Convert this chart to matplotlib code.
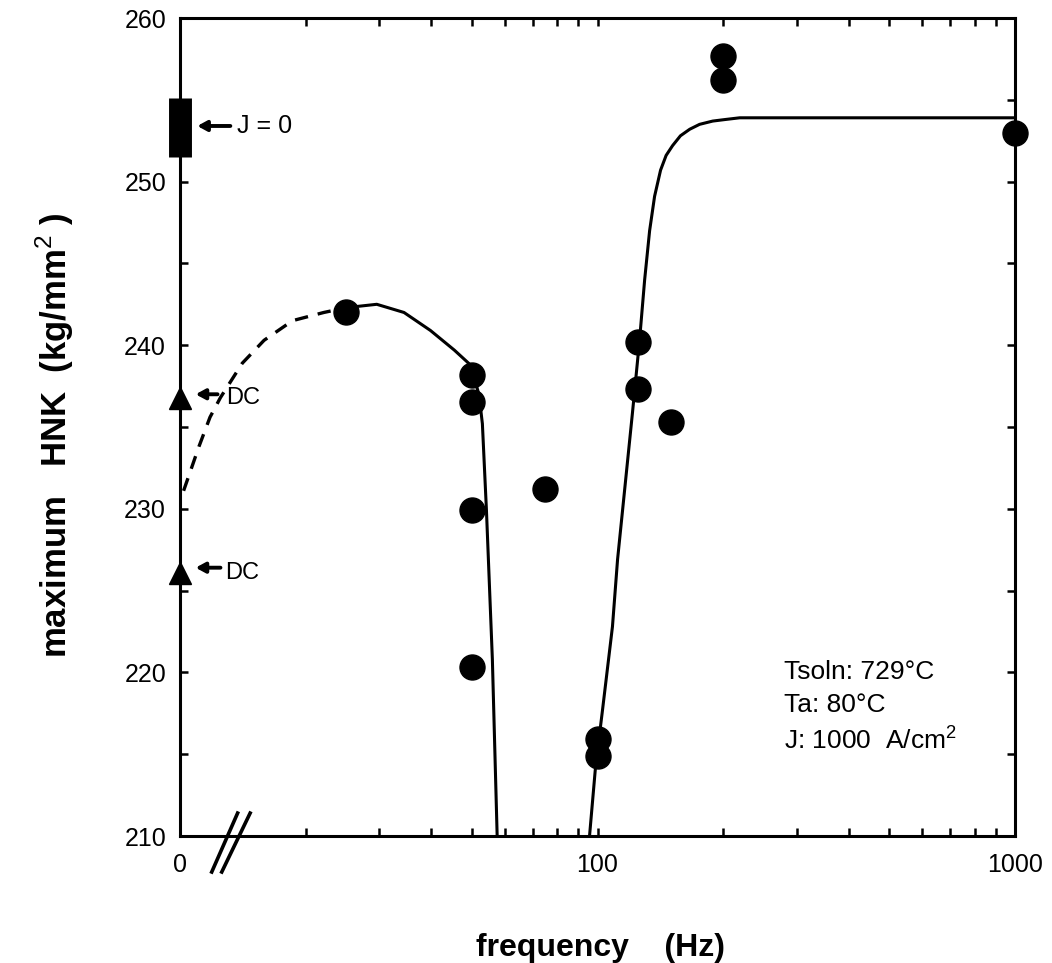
import matplotlib
matplotlib.use("Agg")
import matplotlib.pyplot as plt
from matplotlib.lines import Line2D

plt.rcParams['font.family'] = ['Liberation Sans', 'DejaVu Sans']
plt.rcParams['mathtext.fontset'] = 'custom'
plt.rcParams['mathtext.rm'] = 'Liberation Sans'
plt.rcParams['mathtext.bf'] = 'Liberation Sans:bold'

# measured hardness, AC pulsing (Hz, kg/mm^2)
freq_ac = [25, 50, 50, 50, 50, 75, 100, 100, 125, 125, 150, 200, 200, 1000]
hnk_ac = [242.0, 238.2, 236.5, 229.9, 220.3, 231.2, 215.9, 214.9,
          240.2, 237.3, 235.3, 257.7, 256.2, 253.0]

# DC runs and the no-current band, both sit at f = 0
hnk_dc = [236.8, 226.1]
hnk_j0 = [251.5, 255.1]

# hand-drawn trend lines
dash_f = [10.2, 11.1, 11.8, 12.5, 14.1, 15.9, 18.6, 22.1, 25.1]
dash_h = [231.1, 233.8, 235.6, 236.8, 238.9, 240.3, 241.5, 242.0, 242.3]
low_f = [25.1, 29.6, 34.4, 39.8, 45.4, 49.6, 52.0, 53.0, 54.2, 56.0, 57.5]
low_h = [242.3, 242.5, 242.0, 240.9, 239.7, 238.8, 237.0, 235.2, 229.9, 220.8, 210.0]
high_f = [95.7, 98.9, 102.8, 108.6, 111.7, 121.3, 126.1, 129.7, 133.3, 137.0,
          141.6, 146.0, 151.3, 158.0, 166.3, 175.6, 188.8, 203.0, 219.1, 262.9, 1000]
high_h = [210.0, 214.2, 217.7, 222.8, 226.9, 235.9, 240.3, 244.0, 247.0, 249.1,
          250.7, 251.6, 252.2, 252.8, 253.2, 253.5, 253.7, 253.8, 253.9, 253.9, 253.9]

F0 = 10  # where "0 Hz" is drawn on the log axis

fig = plt.figure(figsize=(10.52, 9.63), dpi=100)
ax = fig.add_axes([180 / 1052, 1 - 836 / 963, 835 / 1052, 818 / 963])
ax.set_xscale('log')
ax.set_xlim(10, 1000)
ax.set_ylim(210, 260)

ax.plot(dash_f, dash_h, color='k', lw=2.4, ls=(0, (4, 3)), dash_capstyle='butt')
ax.plot(low_f, low_h, color='k', lw=2.2, solid_joinstyle='round')
ax.plot(high_f, high_h, color='k', lw=2.2, solid_joinstyle='round')

ax.plot(freq_ac, hnk_ac, 'o', color='k', ms=18, clip_on=False, zorder=5)
ax.plot([F0] * len(hnk_dc), hnk_dc, '^', color='k', ms=16, clip_on=False, zorder=5)
ax.plot([F0, F0], hnk_j0, color='k', lw=16.5, solid_capstyle='butt', clip_on=False, zorder=5)

arrow = dict(arrowstyle='-|>,head_length=0.55,head_width=0.3', lw=2.8, color='k',
             shrinkA=0, shrinkB=0)
ax.annotate('', xy=(11.0, 253.4), xytext=(13.2, 253.4), arrowprops=arrow, annotation_clip=False)
ax.text(13.7, 253.4, 'J = 0', fontsize=18, va='center', ha='left')
ax.annotate('', xy=(10.9, 237.0), xytext=(12.3, 237.0), arrowprops=arrow, annotation_clip=False)
ax.text(12.9, 236.8, 'DC', fontsize=17, va='center', ha='left')
ax.annotate('', xy=(10.9, 226.4), xytext=(12.5, 226.4), arrowprops=arrow, annotation_clip=False)
ax.text(12.8, 226.1, 'DC', fontsize=17, va='center', ha='left')

ax.text(280, 220.0, 'Tsoln: 729°C', fontsize=19, va='center', ha='left')
ax.text(280, 218.0, 'Ta: 80°C', fontsize=19, va='center', ha='left')
ax.text(280, 215.9, 'J: 1000  A/cm$^2$', fontsize=19, va='center', ha='left')

ax.set_xticks([10, 100, 1000])
ax.set_xticklabels(['0', '100', '1000'])
ax.set_yticks([210, 220, 230, 240, 250, 260])
ax.set_yticks([215, 225, 235, 245, 255], minor=True)
ax.tick_params(which='both', direction='in', top=True, right=True,
               length=6, width=1.8, labelsize=18)
ax.tick_params(axis='x', which='minor', labelbottom=False)
ax.tick_params(axis='x', pad=12)
ax.tick_params(axis='y', pad=10)
for s in ax.spines.values():
    s.set_linewidth(2.2)

# axis break marks under the "0"
for x0, x1 in [(0.038, 0.069), (0.050, 0.084)]:
    ax.add_line(Line2D([x0, x1], [-0.044, 0.028], transform=ax.transAxes,
                       color='k', lw=2.6, clip_on=False))

fig.text(55 / 1052, 1 - 435 / 963, 'maximum   HNK  (kg/mm$^{2}$ )', rotation=90,
         fontsize=25, fontweight='bold', ha='center', va='center')
fig.text(600 / 1052, 1 - 948 / 963, 'frequency    (Hz)', fontsize=23,
         fontweight='bold', ha='center', va='center')

fig.savefig('out.png', dpi=100)
